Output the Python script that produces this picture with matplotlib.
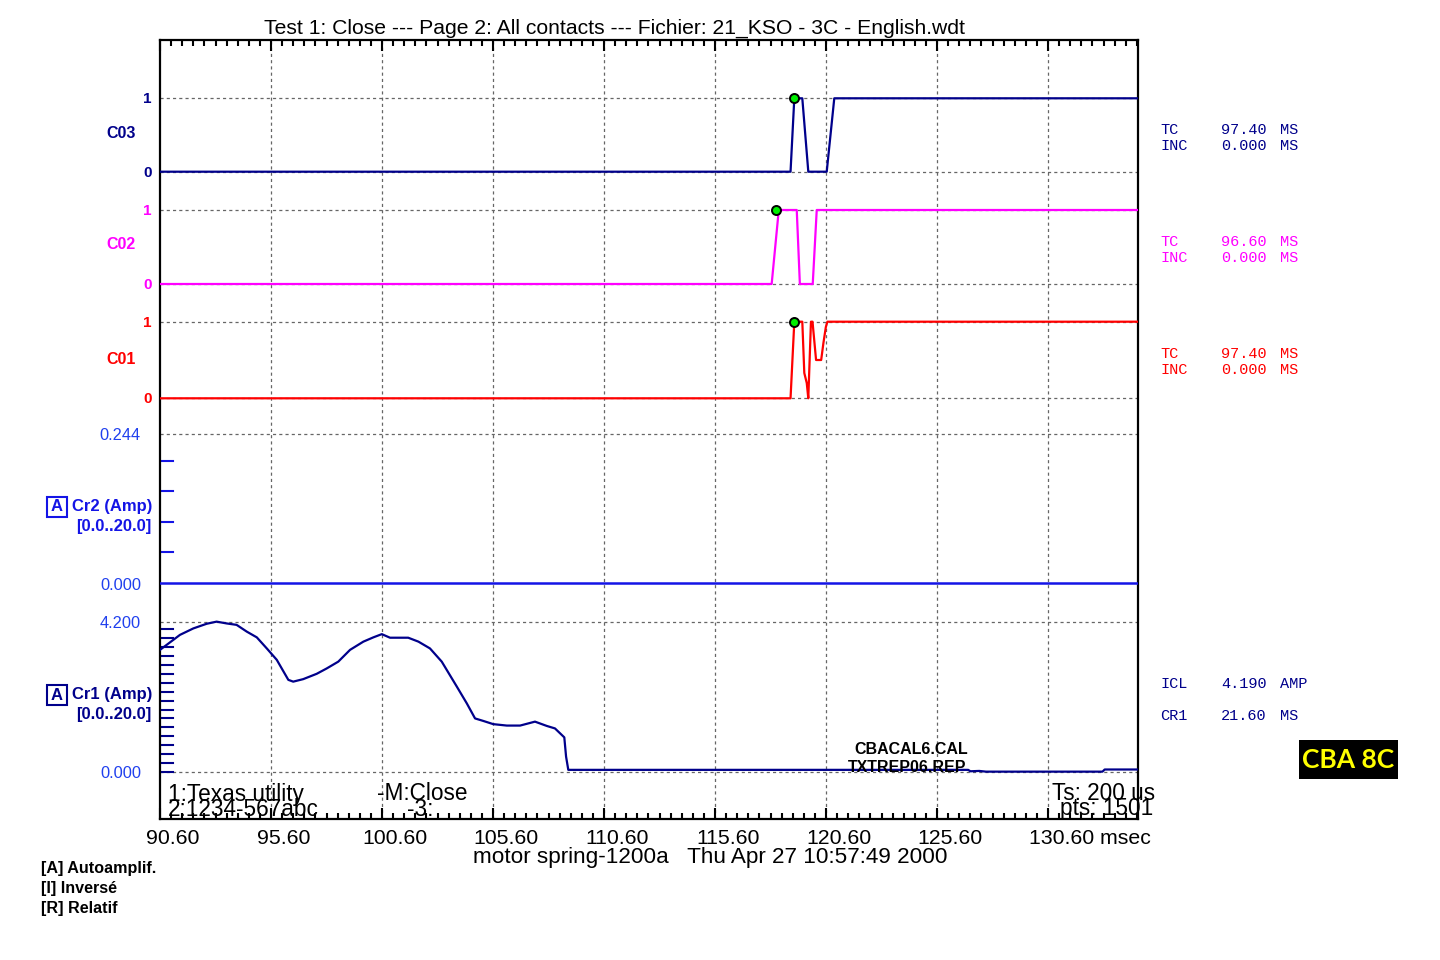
import numpy as np
import matplotlib
matplotlib.use("Agg")
import matplotlib.pyplot as plt
import matplotlib.transforms as mtransforms
from matplotlib.patches import Rectangle

plt.rcParams['font.family'] = ['Liberation Sans', 'DejaVu Sans']

# ---- data (time in ms, contacts 0/1, currents in A) ----
x_min, x_max = 90.6, 134.65
tick_ms = [90.6, 95.6, 100.6, 105.6, 110.6, 115.6, 120.6, 125.6, 130.6]
tick_labels = ["90.60", "95.60", "100.60", "105.60", "110.60", "115.60", "120.60", "125.60", "130.60 msec"]

c03_t = [90.6, 119.0, 119.17, 119.53, 119.8, 120.63, 120.97, 134.65]
c03_v = [0, 0, 1, 1, 0, 0, 1, 1]
c02_t = [90.6, 118.15, 118.47, 119.28, 119.42, 120.0, 120.18, 134.65]
c02_v = [0, 0, 1, 1, 0, 0, 1, 1]
c01_t = [90.6, 119.0, 119.17, 119.53, 119.62, 119.73, 119.80, 119.92, 119.99,
         120.15, 120.38, 120.48, 120.59, 120.66, 134.65]
c01_v = [0, 0, 1, 1, 0.33, 0.2, 0, 1, 1, 0.5, 0.5, 0.72, 0.93, 1, 1]
tc_times = {"C03": 119.17, "C02": 118.36, "C01": 119.17}

cr2_t = [90.6, 134.65]
cr2_v = [0.0, 0.0]

cr1_t = [90.60, 91.20, 91.50, 92.10, 92.70, 93.15, 93.60, 94.05, 94.51, 94.96,
         95.41, 95.86, 96.38, 96.60, 97.05, 97.66, 98.11, 98.63, 99.16, 99.76,
         100.21, 100.59, 100.96, 101.78, 102.24, 102.76, 103.29, 103.97, 104.42, 104.79,
         105.16, 105.61, 106.22, 106.82, 107.49, 108.02, 108.39, 108.81, 108.89, 108.99,
         127.0, 127.1, 127.5, 127.8, 133.05, 133.15, 134.65]
cr1_v = [3.42, 3.70, 3.84, 4.02, 4.15, 4.21, 4.16, 4.12, 3.93, 3.77,
         3.46, 3.14, 2.58, 2.53, 2.60, 2.75, 2.90, 3.09, 3.42, 3.65,
         3.77, 3.86, 3.76, 3.76, 3.65, 3.46, 3.09, 2.39, 1.92, 1.50,
         1.43, 1.34, 1.30, 1.30, 1.41, 1.29, 1.22, 0.97, 0.43, 0.06,
         0.06, 0.02, 0.03, 0.01, 0.01, 0.07, 0.07]

NAVY = '#00008b'
MAG = '#ff00ff'
RED = '#ff0000'
BLUE = '#1414e6'
NUMBLUE = '#2040ee'
GRID = '#666666'

W, H = 1440, 960
fig = plt.figure(figsize=(W / 100, H / 100), dpi=100)

# axes box in pixels: x 160..1138, y 40..819
AX_L, AX_R, AX_T, AX_B = 160, 1138, 40, 819
ax = fig.add_axes([AX_L / W, 1 - AX_B / H, (AX_R - AX_L) / W, (AX_B - AX_T) / H])
ax.set_xlim(x_min, x_max)
ax.set_ylim(0, AX_B - AX_T)  # vertical units = pixel rows above the bottom edge
ax.set_yticks([])
for sp in ax.spines.values():
    sp.set_linewidth(1.6)


def fx(x):
    return x / W


def fy(y):
    return 1 - y / H


def chan(row0, row_top, top_val):
    # channel transform: value -> rows, stacked like the recorder page
    gain = (row0 - row_top) / top_val
    return mtransforms.Affine2D().scale(1, gain).translate(0, AX_B - row0) + ax.transData


tr_c03 = chan(171.7, 98.3, 1)
tr_c02 = chan(284.0, 210.0, 1)
tr_c01 = chan(398.3, 321.7, 1)
tr_cr2 = chan(583.0, 434.0, 0.244)
tr_cr1 = chan(772.0, 622.0, 4.2)

dash = (0, (2.5, 2.5))
for t in tick_ms[1:]:
    ax.axvline(t, color=GRID, lw=0.9, ls=dash, zorder=1)
for tr, vals in [(tr_c03, [0, 1]), (tr_c02, [0, 1]), (tr_c01, [0, 1]),
                 (tr_cr2, [0.244]), (tr_cr1, [0, 4.2])]:
    for v in vals:
        ax.plot([x_min, x_max], [v, v], transform=tr, color=GRID, lw=0.9, ls=dash, zorder=1)

# traces
ax.plot(c03_t, c03_v, transform=tr_c03, color=NAVY, lw=1.6, zorder=3)
ax.plot(c02_t, c02_v, transform=tr_c02, color=MAG, lw=1.6, zorder=3)
ax.plot(c01_t, c01_v, transform=tr_c01, color=RED, lw=1.6, zorder=3)
ax.plot(cr2_t, cr2_v, transform=tr_cr2, color=BLUE, lw=1.8, zorder=3)
ax.plot(cr1_t, cr1_v, transform=tr_cr1, color=NAVY, lw=1.6, zorder=3)
for name, tr in [("C03", tr_c03), ("C02", tr_c02), ("C01", tr_c01)]:
    ax.plot([tc_times[name]], [1], 'o', transform=tr, ms=6.5, mfc='#00ee00',
            mec='black', mew=1.4, zorder=5)

# small amplitude ticks along the left edge
left_tr_cr2 = mtransforms.blended_transform_factory(ax.transAxes, tr_cr2)
left_tr_cr1 = mtransforms.blended_transform_factory(ax.transAxes, tr_cr1)
for v in [0.05, 0.10, 0.15, 0.20]:
    ax.plot([0.002, 0.013], [v, v], transform=left_tr_cr2, color=BLUE, lw=1.5, clip_on=False)
for v in np.arange(0, 4.01, 0.25):
    ax.plot([0.002, 0.013], [v, v], transform=left_tr_cr1, color=NAVY, lw=1.5, clip_on=False)

# x ticks (inward, top and bottom)
ax.set_xticks(tick_ms)
ax.set_xticks(np.arange(x_min, x_max, 0.5), minor=True)
ax.tick_params(axis='x', which='major', direction='in', length=8, width=1.5,
               top=True, bottom=True, labelbottom=False)
ax.tick_params(axis='x', which='minor', direction='in', length=4, width=1.5,
               top=True, bottom=True)
lab_tr = mtransforms.offset_copy(
    mtransforms.blended_transform_factory(ax.transData, ax.transAxes), fig=fig, x=13, y=-2, units='dots')
for t, lab in zip(tick_ms, tick_labels):
    if lab.endswith("msec"):
        ax.text(t - 32 / 22.2, -0.023, lab, transform=lab_tr, ha='left', va='center',
                fontsize=15.3, clip_on=False)
    else:
        ax.text(t, -0.023, lab, transform=lab_tr, ha='center', va='center', fontsize=15.3,
                clip_on=False)

# title and footer
fig.text(fx(615), fy(28), "Test 1: Close --- Page 2: All contacts --- Fichier: 21_KSO - 3C - English.wdt",
         ha='center', va='center', fontsize=15.2)
fig.text(fx(710), fy(857), "motor spring-1200a   Thu Apr 27 10:57:49 2000",
         ha='center', va='center', fontsize=16.2)

# texts inside the plot bottom
BIG = 16.3
fig.text(fx(168), fy(794), "1:Texas utility", ha='left', va='center', fontsize=BIG)
fig.text(fx(168), fy(809), "2:1234-567abc", ha='left', va='center', fontsize=BIG)
fig.text(fx(377), fy(794), "-M:Close", ha='left', va='center', fontsize=BIG)
fig.text(fx(407), fy(809), "-3:", ha='left', va='center', fontsize=BIG)
fig.text(fx(1052), fy(794), "Ts: 200 us", ha='left', va='center', fontsize=BIG)
fig.text(fx(1060), fy(809), "pts: 1501", ha='left', va='center', fontsize=BIG)
fig.text(fx(854), fy(749), "CBACAL6.CAL", ha='left', va='center', fontsize=11.5, weight='bold')
fig.text(fx(848), fy(768), "TXTREP06.REP", ha='left', va='center', fontsize=11.5, weight='bold')

# left channel labels
for name, col, r1, r0, rc in [("C03", NAVY, 99, 173, 133), ("C02", MAG, 211, 285, 245),
                              ("C01", RED, 323, 399, 359)]:
    fig.text(fx(152), fy(r1), "1", ha='right', va='center', fontsize=11, weight='bold', color=col)
    fig.text(fx(152), fy(r0), "0", ha='right', va='center', fontsize=11, weight='bold', color=col)
    fig.text(fx(121), fy(rc), name, ha='center', va='center', fontsize=11.5, weight='bold', color=col)

fig.text(fx(141), fy(435), "0.244", ha='right', va='center', fontsize=11.8, color=NUMBLUE)
fig.text(fx(141), fy(585), "0.000", ha='right', va='center', fontsize=11.8, color=NUMBLUE)
fig.text(fx(141), fy(623), "4.200", ha='right', va='center', fontsize=11.8, color=NUMBLUE)
fig.text(fx(141), fy(773), "0.000", ha='right', va='center', fontsize=11.8, color=NUMBLUE)

for label, col, rc in [("Cr2 (Amp)", BLUE, 507), ("Cr1 (Amp)", NAVY, 695)]:
    fig.add_artist(Rectangle((fx(47), fy(rc + 10)), 20 / W, 20 / H, transform=fig.transFigure,
                             fill=False, ec=col, lw=1.5))
    fig.text(fx(57), fy(rc), "A", ha='center', va='center', fontsize=12, weight='bold', color=col)
    fig.text(fx(72), fy(rc), label, ha='left', va='center', fontsize=12, weight='bold', color=col)
    fig.text(fx(151), fy(rc + 20), "[0.0..20.0]", ha='right', va='center', fontsize=12,
             weight='bold', color=col)

# right-side measurements
mono = dict(family='Liberation Mono', fontsize=11, va='center')
for col, r in [(NAVY, 130), (MAG, 242), (RED, 354)]:
    fig.text(fx(1160), fy(r), "TC", color=col, **mono)
    fig.text(fx(1221), fy(r), "97.40" if col != MAG else "96.60", color=col, **mono)
    fig.text(fx(1280), fy(r), "MS", color=col, **mono)
    fig.text(fx(1160), fy(r + 16), "INC", color=col, **mono)
    fig.text(fx(1221), fy(r + 16), "0.000", color=col, **mono)
    fig.text(fx(1280), fy(r + 16), "MS", color=col, **mono)
fig.text(fx(1160), fy(684), "ICL", color=NAVY, **mono)
fig.text(fx(1221), fy(684), "4.190", color=NAVY, **mono)
fig.text(fx(1280), fy(684), "AMP", color=NAVY, **mono)
fig.text(fx(1160), fy(716), "CR1", color=NAVY, **mono)
fig.text(fx(1221), fy(716), "21.60", color=NAVY, **mono)
fig.text(fx(1280), fy(716), "MS", color=NAVY, **mono)

# CBA 8C badge
fig.add_artist(Rectangle((fx(1299), fy(779)), 99 / W, 39 / H, transform=fig.transFigure,
                         fc='black', ec='none'))
fig.text(fx(1348.5), fy(760), "CBA 8C", ha='center', va='center', fontsize=19,
         weight='bold', color='#ffff00', family=['Lato', 'DejaVu Sans'])

# legend notes bottom-left
for i, s in enumerate(["[A] Autoamplif.", "[I] Inversé", "[R] Relatif"]):
    fig.text(fx(41), fy(869 + 20 * i), s, ha='left', va='center', fontsize=11.6, weight='bold')

fig.savefig("out.png", dpi=100)
